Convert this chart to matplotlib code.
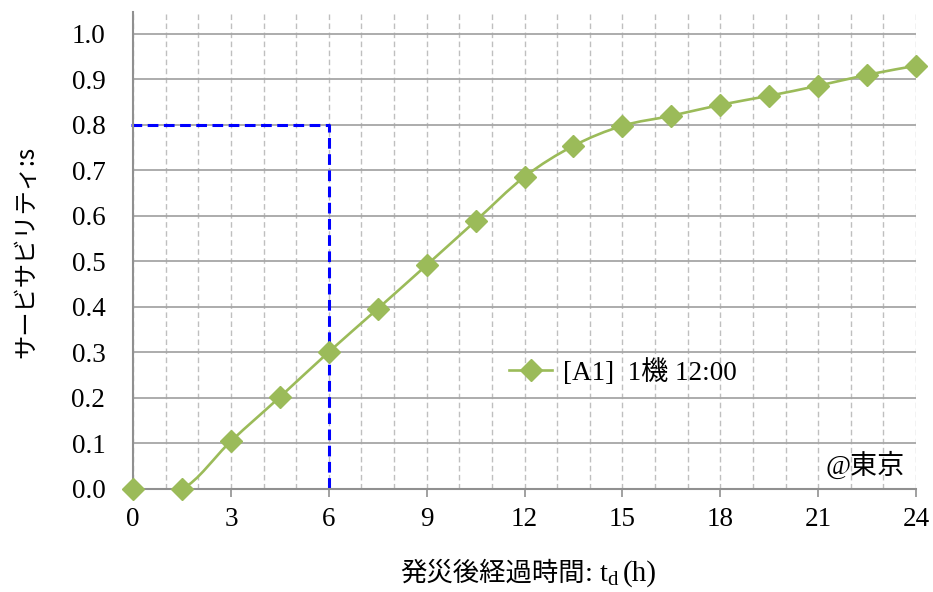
import matplotlib.pyplot as plt
from matplotlib.path import Path
from matplotlib.patches import PathPatch
from matplotlib.lines import Line2D

plt.rcParams["font.family"] = ["Liberation Serif", "Noto Sans CJK JP"]

# data
hours = [0, 1.5, 3, 4.5, 6, 7.5, 9, 10.5, 12, 13.5, 15, 16.5, 18, 19.5, 21, 22.5, 24]
serviceability = [0.0, 0.0, 0.105, 0.202, 0.301, 0.396, 0.492, 0.589, 0.686,
                  0.754, 0.798, 0.820, 0.844, 0.864, 0.886, 0.910, 0.930]
target_hour = 6
target_level = 0.8
series_label = "[A1]  1機 12:00"
xticks = list(range(0, 25, 3))
yticks = [i / 10 for i in range(11)]

GREEN = "#9BBB59"
FS = 19.5

fig = plt.figure(figsize=(9.33, 5.92), dpi=100)
ax = fig.add_axes([0.1426, 0.174, 0.8392, 0.8057])

# smoothed line like Excel (cubic bezier through the points)
pts = list(zip(hours, serviceability))
n = len(pts)
verts = [pts[0]]
codes = [Path.MOVETO]
for i in range(n - 1):
    p0 = pts[max(i - 1, 0)]
    p1 = pts[i]
    p2 = pts[i + 1]
    p3 = pts[min(i + 2, n - 1)]
    c1 = (p1[0] + (p2[0] - p0[0]) / 6, p1[1] + (p2[1] - p0[1]) / 6)
    c2 = (p2[0] - (p3[0] - p1[0]) / 6, p2[1] - (p3[1] - p1[1]) / 6)
    verts += [c1, c2, p2]
    codes += [Path.CURVE4] * 3
ax.add_patch(PathPatch(Path(verts, codes), facecolor="none", edgecolor=GREEN,
                       lw=1.9, zorder=3))
ax.plot(hours, serviceability, "D", color=GREEN, ms=11, zorder=4, clip_on=False)

# target guide
ax.plot([-0.05, target_hour, target_hour], [target_level, target_level, 0],
        color="#0000FF", lw=2.2, ls=(0, (3.5, 1.8)), zorder=2, clip_on=False)

handle = Line2D([], [], color=GREEN, lw=1.9, marker="D", ms=11)
ax.legend([handle], [series_label], loc="center left", bbox_to_anchor=(0.480, 0.245),
          frameon=False, fontsize=FS, handlelength=1.6, handletextpad=0.4,
          borderpad=0, borderaxespad=0)

ax.text(0.986, 0.048, "@東京", transform=ax.transAxes, ha="right", va="center",
        fontsize=FS)

ax.set_xlim(0, 24)
ax.set_ylim(0, 1.048)
ax.set_xticks(xticks)
ax.set_yticks(yticks)
ax.set_yticklabels([f"{v:.1f}" for v in yticks])
ax.set_xticks(range(0, 25), minor=True)
ax.tick_params(axis="x", which="major", length=6, width=1.2, color="#909090",
               labelsize=FS, pad=7)
ax.tick_params(axis="x", which="minor", length=0)
ax.tick_params(axis="y", length=0, labelsize=FS, pad=20)

ax.grid(axis="y", which="major", color="#A6A6A6", lw=1.3)
ax.grid(axis="x", which="both", color="#BFBFBF", lw=1.0, ls=(0, (4, 2.5)))
ax.set_axisbelow(True)
for s in ["top", "right"]:
    ax.spines[s].set_visible(False)
for s in ["left", "bottom"]:
    ax.spines[s].set_color("#909090")
    ax.spines[s].set_linewidth(1.5)

fig.text(26 / 933, 1 - 252 / 592, "サービサビリティ:s", rotation=90,
         ha="center", va="center", fontsize=17.5, family="Noto Sans CJK JP")

# x label built from pieces: CJK part, t, subscript d, (h)
r = fig.canvas.get_renderer()
base_y = 1 - 581 / 592
t1 = fig.text(400 / 933, base_y, "発災後経過時間", fontsize=19,
              family="Noto Sans CJK JP", va="baseline")
x1 = t1.get_window_extent(r).x1 / fig.bbox.width
t2 = fig.text(x1, base_y, ": t", fontsize=20.5, va="baseline")
x2 = t2.get_window_extent(r).x1 / fig.bbox.width
t3 = fig.text(x2, base_y - 4 / 592, "d", fontsize=15, va="baseline")
x3 = t3.get_window_extent(r).x1 / fig.bbox.width
fig.text(x3 + 5 / 933, base_y, "(h)", fontsize=21, va="baseline")

fig.savefig("out.png", dpi=100)
